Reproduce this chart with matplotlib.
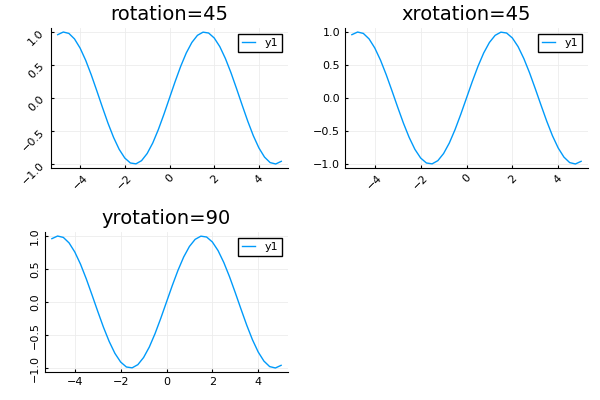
import matplotlib
matplotlib.use("Agg")
import matplotlib.pyplot as plt

x_neg = [-5, -4.75, -4.5, -4.25, -4, -3.75, -3.5, -3.25, -3, -2.75, -2.5, -2.25, -2,
         -1.75, -1.5, -1.25, -1, -0.75, -0.5, -0.25]
y_neg = [0.959, 0.999, 0.978, 0.895, 0.757, 0.572, 0.351, 0.108, -0.141, -0.382, -0.598,
         -0.778, -0.909, -0.984, -0.997, -0.949, -0.841, -0.682, -0.479, -0.247]
x = x_neg + [0] + [-v for v in reversed(x_neg)]
y = y_neg + [0.0] + [-v for v in reversed(y_neg)]

titles = ["rotation=45", "xrotation=45", "yrotation=90"]
xrots = [45, 45, 0]
yrots = [45, 0, 90]

fig = plt.figure(figsize=(6, 4), dpi=100)
positions = [[0.085, 0.58, 0.395, 0.35], [0.575, 0.58, 0.405, 0.35], [0.075, 0.07, 0.405, 0.35]]
for pos, t, xr, yr in zip(positions, titles, xrots, yrots):
    ax = fig.add_axes(pos)
    ax.plot(x, y, color="#009AFA", lw=1, label="y1")
    ax.set_xlim(-5.3, 5.3)
    ax.set_ylim(-1.06, 1.06)
    ax.set_xticks([-4, -2, 0, 2, 4])
    ax.set_yticks([-1, -0.5, 0, 0.5, 1])
    ax.set_yticklabels(["−1.0", "−0.5", "0.0", "0.5", "1.0"])
    ax.set_xticklabels(["−4", "−2", "0", "2", "4"])
    ax.tick_params(labelsize=8, length=2, direction="in")
    for lab in ax.get_xticklabels():
        lab.set_rotation(xr)
    for lab in ax.get_yticklabels():
        lab.set_rotation(yr)
        if yr == 90:
            lab.set_va("center")
    ax.grid(True, color="#ececec", lw=0.6)
    ax.spines["top"].set_visible(False)
    ax.spines["right"].set_visible(False)
    ax.set_title(t, fontsize=14)
    ax.legend(loc="upper right", fontsize=8, handlelength=1.2, fancybox=False,
              edgecolor="black", framealpha=1, borderpad=0.4)

fig.savefig("out.png", dpi=100)
